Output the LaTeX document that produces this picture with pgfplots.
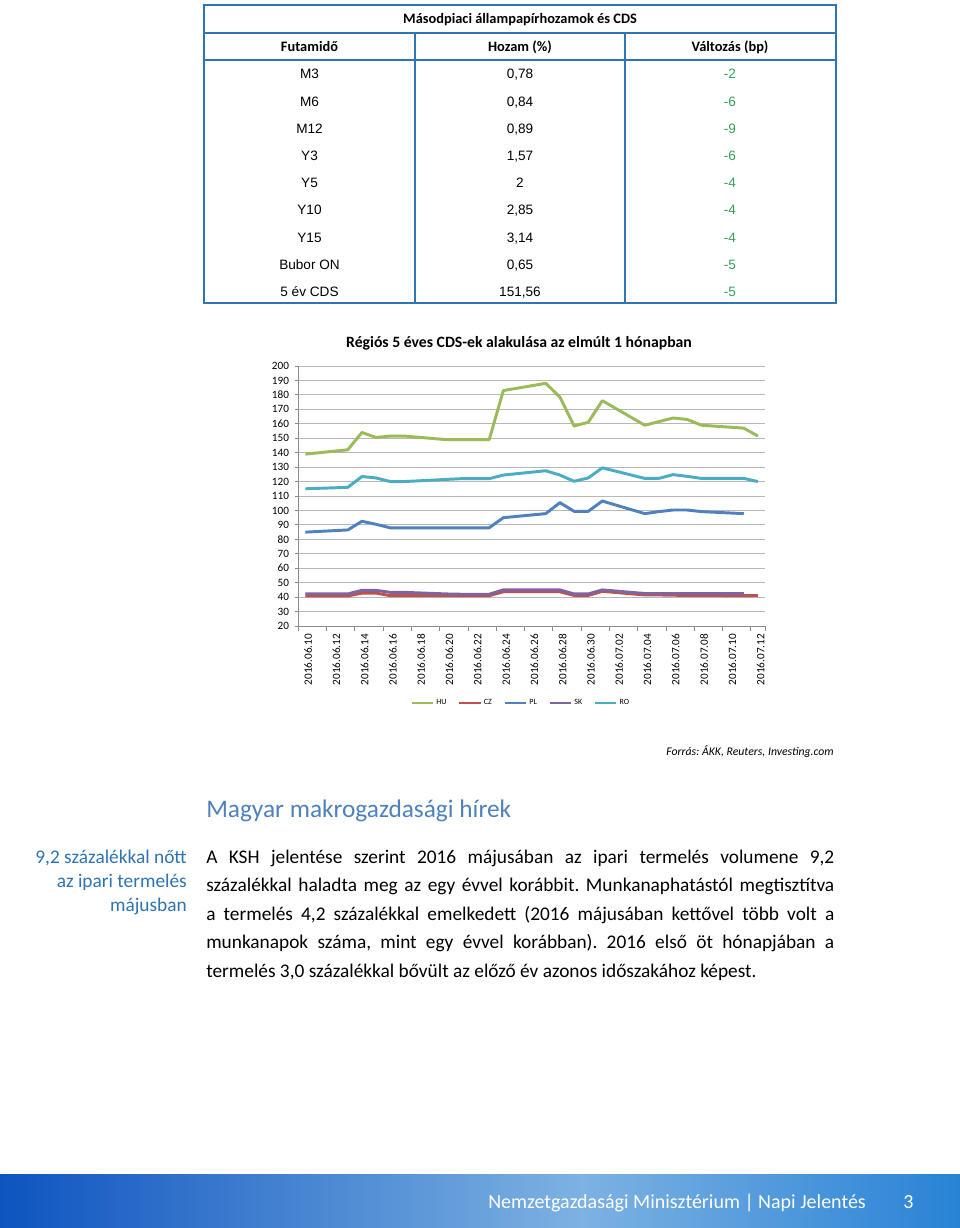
\documentclass[border=0pt]{standalone}
\usepackage{pgfplots}
\pgfplotsset{compat=1.18}
\usepackage{fontspec}
\setmainfont{Carlito}
\newfontfamily\arialf{Liberation Sans}
\frenchspacing
\definecolor{hu}{HTML}{9BBB59}
\definecolor{cz}{HTML}{C0504D}
\definecolor{pl}{HTML}{4F81BD}
\definecolor{sk}{HTML}{8064A2}
\definecolor{ro}{HTML}{4BACC6}
\definecolor{tbl}{RGB}{46,117,182}
\definecolor{tgreen}{RGB}{52,160,90}
\definecolor{sidecol}{RGB}{46,116,181}
\definecolor{headcol}{RGB}{79,129,189}
\definecolor{fdark}{RGB}{14,84,192}
\definecolor{flight}{RGB}{125,178,226}
\definecolor{fright}{RGB}{40,130,214}
\begin{document}
\begin{tikzpicture}
\begin{scope}[x=0.75pt,y=-0.75pt]
\fill[white] (0,0) rectangle (960,1228);
\useasboundingbox (0,0) rectangle (960,1228);
% ---- table ----
\draw[tbl, line width=1.5pt] (204,5) rectangle (836,303);
\draw[tbl, line width=1.5pt] (204,32.5) -- (836,32.5);
\draw[tbl, line width=1.5pt] (204,60) -- (836,60);
\draw[tbl, line width=1.5pt] (415,32.5) -- (415,303);
\draw[tbl, line width=1.5pt] (625,32.5) -- (625,303);
\node[anchor=base, inner sep=0pt, font=\fontsize{10.8}{12}\selectfont\bfseries] at (520,23.6) {Másodpiaci állampapírhozamok és CDS};
\begin{scope}[every node/.style={anchor=base, inner sep=0pt, font=\fontsize{10.8}{12}\selectfont\bfseries}]
\node at (309.5,51) {Futamidő};
\node at (520,51) {Hozam (\%)};
\node at (730,51) {Változás (bp)};
\end{scope}
\begin{scope}[every node/.style={anchor=base, inner sep=0pt, font=\arialf\fontsize{10.2}{12}\selectfont}]
\node at (309.5,78.9) {M3};       \node at (520,78.9) {0,78};   \node[tgreen] at (730,78.9) {-2};
\node at (309.5,106.1) {M6};      \node at (520,106.1) {0,84};  \node[tgreen] at (730,106.1) {-6};
\node at (309.5,133.3) {M12};     \node at (520,133.3) {0,89};  \node[tgreen] at (730,133.3) {-9};
\node at (309.5,160.5) {Y3};      \node at (520,160.5) {1,57};  \node[tgreen] at (730,160.5) {-6};
\node at (309.5,187.7) {Y5};      \node at (520,187.7) {2};     \node[tgreen] at (730,187.7) {-4};
\node at (309.5,214.9) {Y10};     \node at (520,214.9) {2,85};  \node[tgreen] at (730,214.9) {-4};
\node at (309.5,242.1) {Y15};     \node at (520,242.1) {3,14};  \node[tgreen] at (730,242.1) {-4};
\node at (309.5,269.3) {Bubor ON};\node at (520,269.3) {0,65};  \node[tgreen] at (730,269.3) {-5};
\node at (309.5,296.5) {5 év CDS};\node at (520,296.5) {151,56};\node[tgreen] at (730,296.5) {-5};
\end{scope}
% ---- chart title & source ----
\node[anchor=base, inner sep=0pt, font=\fontsize{11.8}{14}\selectfont\bfseries] at (519,347) {Régiós 5 éves CDS-ek alakulása az elmúlt 1 hónapban};
\node[anchor=base east, inner sep=0pt, font=\fontsize{8.8}{10}\selectfont\itshape] at (834,755) {Forrás: ÁKK, Reuters, Investing.com};
% ---- text ----
\node[anchor=base west, inner sep=0pt, font=\fontsize{19}{22}\selectfont, headcol] at (206,817) {Magyar makrogazdasági hírek};
\node[anchor=base east, align=right, inner sep=0pt, font=\fontsize{14.5}{18}\selectfont, sidecol] at (187,911) {9,2 százalékkal nőtt\\az ipari termelés\\májusban};
\node[anchor=base west, text width=471pt, align=justify, inner sep=0pt, font=\fontsize{14.5}{21.4}\selectfont] at (206,863) {A KSH jelentése szerint 2016 májusában az ipari termelés volumene 9,2\linebreak százalékkal haladta meg az egy évvel korábbit. Munkanaphatástól megtisztítva\linebreak a termelés 4,2 százalékkal emelkedett (2016 májusában kettővel több volt a\linebreak munkanapok száma, mint egy évvel korábban). 2016 első öt hónapjában a\linebreak termelés 3,0 százalékkal bővült az előző év azonos időszakához képest.};
% ---- footer ----
\shade[left color=fdark, right color=flight] (0,1174) rectangle (582,1228);
\shade[left color=flight, right color=fright] (582,1174) rectangle (960,1228);
\node[anchor=base west, inner sep=0pt, white, font=\fontsize{15}{16}\selectfont] at (488,1208) {Nemzetgazdasági Minisztérium | Napi Jelentés};
\node[anchor=base west, inner sep=0pt, white, font=\fontsize{15}{16}\selectfont] at (903,1208) {3};
\end{scope}
\begin{axis}[
  at={(223.725pt,-469.5pt)}, anchor=south west,
  scale only axis, width=350pt, height=195pt,
  xmin=-0.5, xmax=32.5, ymin=20, ymax=200,
  axis lines=left, axis line style={-, draw=black!45, line width=0.6pt},
  ytick={20,30,...,200}, ymajorgrids, grid style={black!28, line width=0.7pt},
  xtick={0,2,...,32},
  xticklabels={2016.06.10,2016.06.12,2016.06.14,2016.06.16,2016.06.18,2016.06.20,2016.06.22,2016.06.24,2016.06.26,2016.06.28,2016.06.30,2016.07.02,2016.07.04,2016.07.06,2016.07.08,2016.07.10,2016.07.12},
  xtick style={draw=none},
  extra x ticks={-0.5,1.5,3.5,5.5,7.5,9.5,11.5,13.5,15.5,17.5,19.5,21.5,23.5,25.5,27.5,29.5,31.5,32.5},
  extra x tick labels={},
  extra x tick style={xtick style={draw=black!45, line width=0.6pt}, major tick length=3.5pt, grid=none},
  ytick style={draw=black!45, line width=0.6pt},
  tick align=outside, major tick length=2.5pt,
  /pgf/number format/assume math mode=true,
  ticklabel style={font=\fontsize{8.4}{10}\selectfont},
  yticklabel style={xshift=-1pt},
  xticklabel style={rotate=90, anchor=east, yshift=-2pt},
  legend columns=5,
  legend style={at={(0.478,-0.296)}, anchor=center, draw=none, fill=none, font=\fontsize{6}{7}\selectfont,
    /tikz/every even column/.append style={column sep=7pt}},
  legend image code/.code={\draw[#1, line width=1.1pt] (0pt,0pt) -- (16pt,0pt);},
  every axis plot/.append style={line width=2.2pt, line join=round},
]
\addplot[hu] coordinates {(0,139) (3,142) (4,154) (5,150.5) (6,151.5) (7,151.5) (10,149) (11,149) (12,149) (13,149) (14,183) (17,188) (18,178.5) (19,158.5) (20,161) (21,176) (24,159) (25,161.5) (26,164) (27,163) (28,159) (31,157) (32,151.5)};
\addplot[cz] coordinates {(0,40.8) (3,40.8) (4,42.8) (5,42.8) (6,41) (7,41) (10,41) (11,41) (12,41) (13,41) (14,43.7) (17,43.7) (18,43.7) (19,41.2) (20,41.2) (21,44) (24,41.5) (25,41.5) (26,41.3) (27,41.2) (28,41.2) (31,41) (32,41)};
\addplot[pl] coordinates {(0,85) (3,86.5) (4,92.5) (5,90.4) (6,88) (7,88) (10,88) (11,88) (12,88) (13,88) (14,95) (17,97.8) (18,105.4) (19,99.4) (20,99.4) (21,106.5) (24,97.8) (25,99.2) (26,100.3) (27,100.3) (28,99.2) (31,97.8)};
\addplot[sk] coordinates {(0,42.2) (3,42.2) (4,44.7) (5,44.7) (6,43.3) (7,43.3) (10,42.2) (11,42) (12,42) (13,42) (14,45) (17,45) (18,45) (19,42.2) (20,42.2) (21,45) (24,42.5) (25,42.5) (26,42.5) (27,42.5) (28,42.5) (31,42.5)};
\addplot[ro] coordinates {(0,115) (3,116) (4,123.5) (5,122.5) (6,120) (7,120) (10,121.5) (11,122) (12,122) (13,122) (14,124.5) (17,127.5) (18,124.5) (19,120.2) (20,122.5) (21,129.5) (24,122.2) (25,122.2) (26,124.8) (27,123.6) (28,122.2) (31,122.2) (32,120)};
\legend{HU,CZ,PL,SK,RO}
\end{axis}
\end{tikzpicture}
\end{document}
